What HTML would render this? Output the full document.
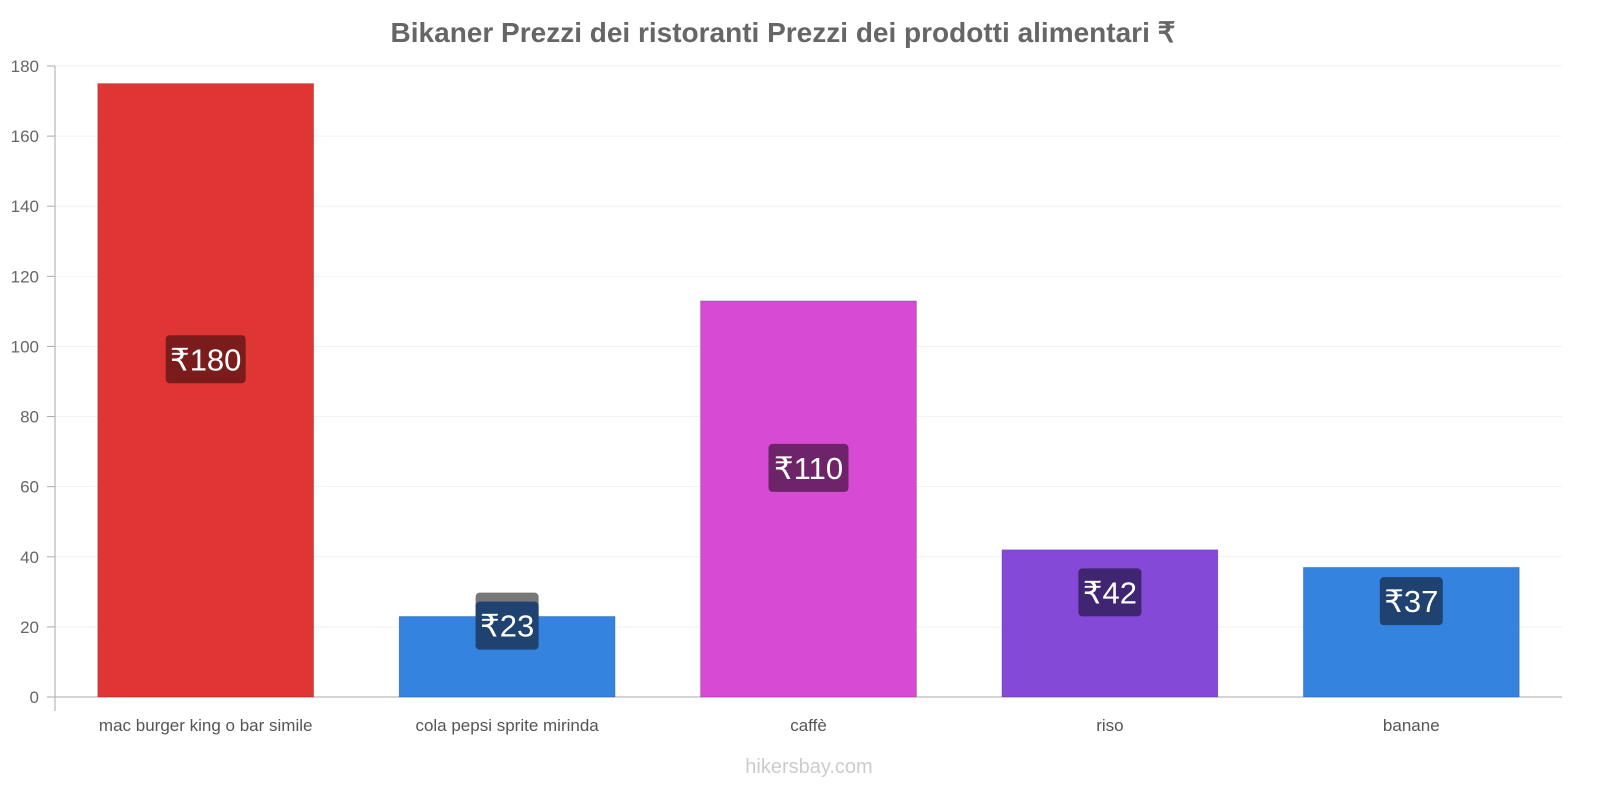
<!DOCTYPE html>
<html><head><meta charset="utf-8"><style>
html,body{margin:0;padding:0;background:#fff;font-family:"Liberation Sans",sans-serif;overflow:hidden;width:1600px;height:800px}
svg{display:block}
</style></head><body>
<svg id="c" width="1600" height="800" xmlns="http://www.w3.org/2000/svg">
<text x="783" y="42" text-anchor="middle" font-size="28" font-weight="bold" fill="#666">Bikaner Prezzi dei ristoranti Prezzi dei prodotti alimentari ₹</text>
<text x="809" y="773" text-anchor="middle" font-size="20" fill="#ccc">hikersbay.com</text>
</svg>
<script>
const categories=["mac burger king o bar simile","cola pepsi sprite mirinda","caffè","riso","banane"];
const values=[175,23,113,42,37];
const labels=["₹180","₹23","₹110","₹42","₹37"];
const yTicks=[0,20,40,60,80,100,120,140,160,180];
const colors=["#e03535","#3483de","#d64ad4","#8549d8","#3483de"];
const labelColors=["#7a1c1c","#1f4270","#6d2469","#402672","#1f4270"];
const svg=document.getElementById('c');const NS="http://www.w3.org/2000/svg";
const x0=55,x1=1562,y0=697,yTop=66,yMax=180;
const y=v=>y0-(v/yMax)*(y0-yTop);
const band=(x1-x0)/categories.length;
function el(t,a,p){const e=document.createElementNS(NS,t);for(const k in a)e.setAttribute(k,a[k]);(p||svg).appendChild(e);return e;}
yTicks.forEach(t=>{
 const g=el('line',{x1:x0,x2:x1,y1:y(t),y2:y(t),stroke:t===0?'#aaa':'#f2f2f2','stroke-width':1});
 
 
 const tk=el('line',{x1:x0-8,x2:x0,y1:y(t),y2:y(t),stroke:'#aaa'});
 
 
 const tx=el('text',{x:x0-16,y:y(t)+6,'text-anchor':'end','font-size':17,fill:'#666'});tx.textContent=t;
 
 
});
const ax=el('line',{x1:x0,x2:x0,y1:yTop,y2:y0+14,stroke:'#aaa'});


categories.forEach((c,i)=>{
 const cx=x0+band*(i+0.5),bw=216;
 const r=el('rect',{x:cx-bw/2,y:y(values[i]),width:bw,height:y0-y(values[i]),fill:colors[i],stroke:'rgba(0,0,0,0.15)'});
 
 
 const ly=(y(values[i])+y0)/2-31;
 const w=labels[i].length*17+12;
 if(values[i]<30){const gb=el('rect',{x:cx-w/2,y:ly-33,width:w,height:30,rx:4,fill:'#777'});
  
  }
 const b=el('rect',{x:cx-w/2,y:ly-24,width:w,height:48,rx:4,fill:labelColors[i]});
 
 
 const t=el('text',{x:cx,y:ly+11,'text-anchor':'middle','font-size':31,fill:'#fff'});t.textContent=labels[i];
 
 
 const xl=el('text',{x:cx,y:731,'text-anchor':'middle','font-size':17,fill:'#555'});xl.textContent=c;
 
 
});
</script>
</body></html>
